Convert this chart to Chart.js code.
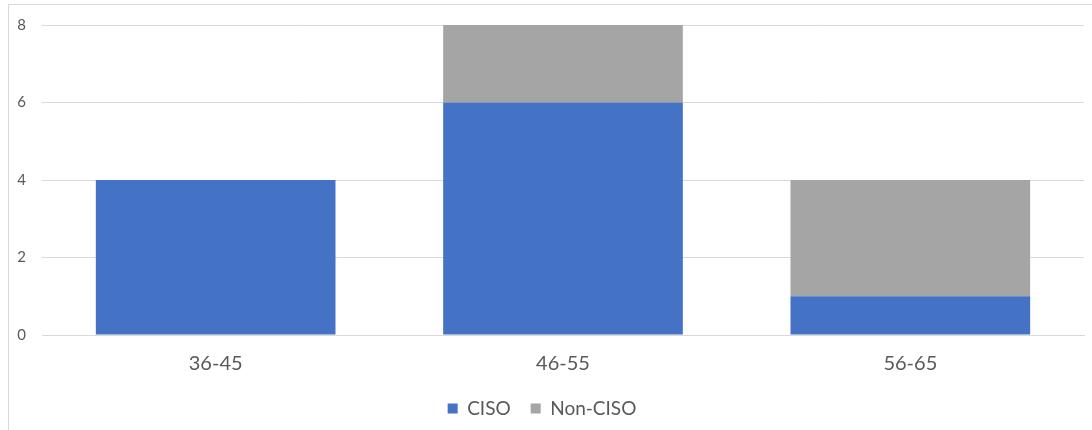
<!DOCTYPE html>
<html>
<head>
<meta charset="utf-8">
<script src="https://cdn.jsdelivr.net/npm/chart.js@4.4.1/dist/chart.umd.min.js"></script>
<style>
  html, body { margin: 0; padding: 0; background: #fff; overflow: hidden; }
  #frame {
    position: absolute; left: 8px; top: 4px; width: 1200px; height: 500px;
    border-left: 1px solid #d9d9d9; border-top: 1px solid #d9d9d9;
  }
  #wrap { position: absolute; left: 0; top: 0; width: 1092px; height: 430px; }
</style>
</head>
<body>
<div id="frame"></div>
<div id="wrap"><canvas id="myChart" width="1092" height="430"></canvas></div>
<script>
// dados do gráfico
const categorias = ['36-45', '46-55', '56-65'];
const valoresCISO = [4, 6, 1];
const valoresNaoCISO = [0, 2, 3];
const ticksY = [0, 2, 4, 6, 8];

const fonte = 'Lato, "Liberation Sans", sans-serif';

const ctx = document.getElementById('myChart').getContext('2d');
const myChart = new Chart(ctx, {
    type: 'bar',
    data: {
        labels: categorias,
        datasets: [
            {
                label: 'CISO',
                data: valoresCISO,
                backgroundColor: '#4472C4',
                categoryPercentage: 0.69,
                barPercentage: 1
            },
            {
                label: 'Non-CISO',
                data: valoresNaoCISO,
                backgroundColor: '#A5A5A5',
                categoryPercentage: 0.69,
                barPercentage: 1
            }
        ]
    },
    options: {
        responsive: false,
        animation: false,
        devicePixelRatio: 1,
        layout: { padding: { top: 9, right: 8, bottom: 2, left: 0 } },
        plugins: {
            tooltip: { enabled: false },
            legend: {
                position: 'bottom',
                labels: {
                    boxWidth: 10,
                    boxHeight: 10,
                    padding: 20,
                    color: '#595959',
                    font: { family: fonte, size: 19 }
                }
            }
        },
        scales: {
            x: {
                stacked: true,
                grid: { display: false, drawTicks: false },
                border: { color: '#d9d9d9' },
                afterFit: (scale) => { scale.height = 44; },
                ticks: {
                    padding: 17,
                    color: '#595959',
                    font: { family: fonte, size: 20 }
                }
            },
            y: {
                stacked: true,
                min: 0,
                max: 8,
                afterBuildTicks: (scale) => {
                    scale.ticks = ticksY.map(v => ({ value: v }));
                },
                afterFit: (scale) => { scale.width = 42; },
                grid: { color: '#d9d9d9', drawTicks: false },
                border: { display: false },
                ticks: {
                    padding: 16,
                    color: '#595959',
                    font: { family: fonte, size: 15 }
                }
            }
        }
    }
});
</script>
</body>
</html>
